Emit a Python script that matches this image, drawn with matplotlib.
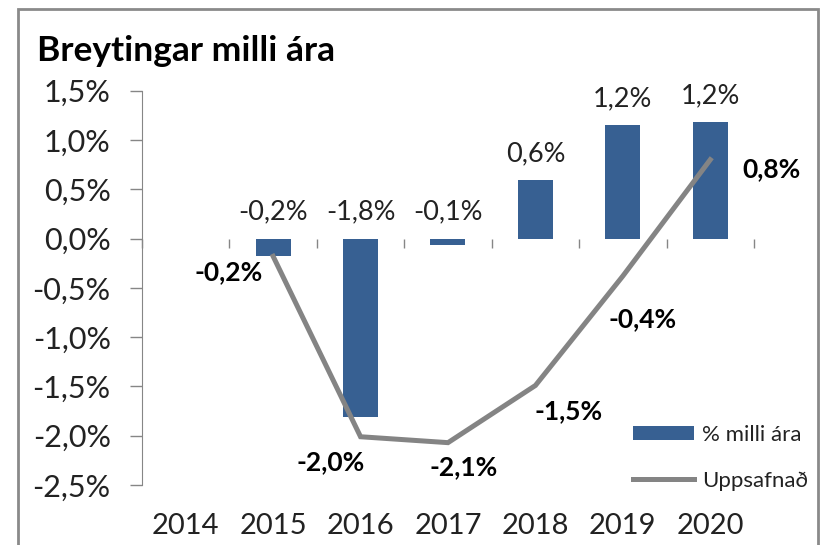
import matplotlib.pyplot as plt
from matplotlib.patches import Rectangle

plt.rcParams['font.family'] = ['Lato', 'DejaVu Sans']

# data
years = ['2014', '2015', '2016', '2017', '2018', '2019', '2020']
yearly = [None, -0.18, -1.81, -0.07, 0.59, 1.15, 1.18]       # % milli ára (bars)
cumulative = [None, -0.18, -2.01, -2.07, -1.49, -0.38, 0.80]  # Uppsafnað (line)
yearly_labels = ['', '-0,2%', '-1,8%', '-0,1%', '0,6%', '1,2%', '1,2%']
cum_labels = ['', '-0,2%', '-2,0%', '-2,1%', '-1,5%', '-0,4%', '0,8%']
yticks = [1.5, 1.0, 0.5, 0.0, -0.5, -1.0, -1.5, -2.0, -2.5]
ytick_labels = ['1,5%', '1,0%', '0,5%', '0,0%', '-0,5%', '-1,0%', '-1,5%', '-2,0%', '-2,5%']

bar_color = '#376092'
line_color = '#848484'
axis_color = '#868686'

fig = plt.figure(figsize=(8.26, 5.45), dpi=100)
ax = fig.add_axes([0.1719, 0.110, 0.9128 - 0.1719, 0.8336 - 0.110])

# outer chart frame
fig.patches.append(Rectangle((18 / 826, -0.05), 800 / 826, 1.05 - 9 / 545,
                             transform=fig.transFigure, fill=False,
                             edgecolor='#8a8a8a', linewidth=2))

xs = [i for i, v in enumerate(yearly) if v is not None]
bar_vals = [yearly[i] for i in xs]
line_vals = [cumulative[i] for i in xs]

bars = ax.bar(xs, bar_vals, width=0.4, color=bar_color, label='% milli ára', zorder=2)
line, = ax.plot(xs, line_vals, color=line_color, linewidth=3.6, label='Uppsafnað',
                zorder=3, solid_joinstyle='miter')

# bar value labels, placed above the bar or above the zero line
for i in xs:
    ax.annotate(yearly_labels[i], (i, max(yearly[i], 0)), xytext=(0, 19),
                textcoords='offset pixels', ha='center', va='baseline',
                fontsize=19.5, color='#222222')

# cumulative labels, bold
offsets = {1: (-45, -16), 2: (-30, -25), 3: (16, -24), 4: (33, -26),
           5: (20, -43), 6: (61, -9)}
for i in xs:
    ax.annotate(cum_labels[i], (i, cumulative[i]), xytext=offsets[i],
                textcoords='offset pixels', ha='center', va='center',
                fontsize=19, fontweight='bold', color='black')

ax.set_xlim(-0.5, len(years) - 0.5)
ax.set_ylim(-2.5, 1.5)
ax.set_yticks(yticks, ytick_labels)
ax.tick_params(axis='y', direction='out', length=8.5, width=1, color=axis_color,
               pad=14, labelsize=22, labelcolor='#222222')

# year labels at the bottom
ax.set_xticks(range(len(years)), years)
ax.tick_params(axis='x', length=0, pad=20, labelsize=21, labelcolor='#222222')

for side in ['top', 'right', 'bottom']:
    ax.spines[side].set_visible(False)
ax.spines['left'].set_color(axis_color)

# category axis crossing at zero
zero_pos = 2.5 / 4.0
sec = ax.secondary_xaxis(zero_pos)
sec.set_xticks([b - 0.5 for b in range(len(years) + 1)])
sec.tick_params(axis='x', direction='out', length=6.5, width=1, color=axis_color,
                labelbottom=False, labeltop=False, bottom=True, top=False)
sec.spines['bottom'].set_color(axis_color)
sec.spines['top'].set_visible(False)
sec.xaxis.set_ticks_position('bottom')
sec.set_xticklabels([])

fig.text(37 / 826, 1 - 61 / 545, 'Breytingar milli ára', fontsize=25.5,
         fontweight='bold', ha='left', va='baseline', color='black')

leg = ax.legend(handles=[bars, line], loc='upper left',
                bbox_to_anchor=(633 / 826, 1 - 425 / 545),
                bbox_transform=fig.transFigure, frameon=False, fontsize=16,
                handlelength=2.75, handleheight=0.6, handletextpad=0.35,
                labelspacing=1.15, borderpad=0, borderaxespad=0)
for t in leg.get_texts():
    t.set_color('#222222')

fig.savefig('out.png', dpi=100)
